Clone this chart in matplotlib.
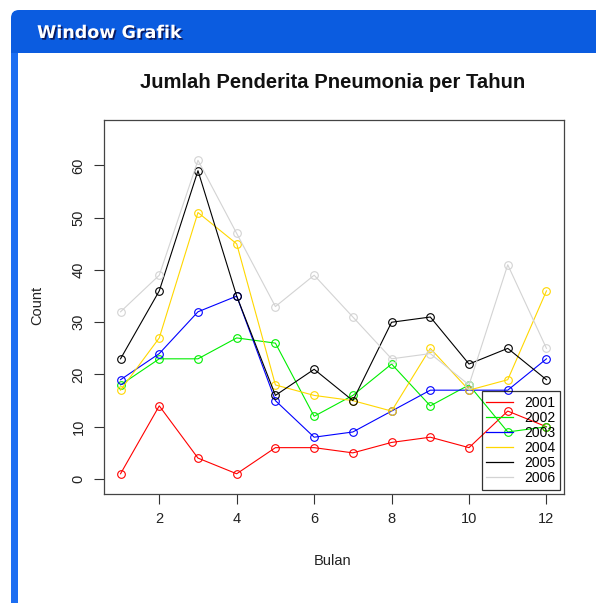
import numpy as np
import matplotlib
matplotlib.use("Agg")
import matplotlib.pyplot as plt
from matplotlib.patches import FancyBboxPatch, Rectangle
from matplotlib.lines import Line2D
import matplotlib.patheffects as pe

# data
bulan = np.arange(1, 13)
tahun = ['2001', '2002', '2003', '2004', '2005', '2006']
y2001 = [1, 14, 4, 1, 6, 6, 5, 7, 8, 6, 13, 10]
y2002 = [18, 23, 23, 27, 26, 12, 16, 22, 14, 18, 9, 10]
y2003 = [19, 24, 32, 35, 15, 8, 9, 13, 17, 17, 17, 23]
y2004 = [17, 27, 51, 45, 18, 16, 15, 13, 25, 17, 19, 36]
y2005 = [23, 36, 59, 35, 16, 21, 15, 30, 31, 22, 25, 19]
y2006 = [32, 39, 61, 47, 33, 39, 31, 23, 24, 18, 41, 25]
warna = ['#ff0000', '#00ee00', '#0000ff', '#ffd700', '#000000', '#d3d3d3']

W, H = 596, 603
fig = plt.figure(figsize=(W / 100, H / 100), dpi=100)

# window frame drawn in pixel coords
bg = fig.add_axes([0, 0, 1, 1])
bg.set_xlim(0, W)
bg.set_ylim(H, 0)
bg.axis('off')
bg.add_patch(FancyBboxPatch((11, 10), 620, 43, boxstyle='round,pad=0,rounding_size=8',
                            fc='#0b5ce0', ec='none'))
bg.add_patch(Rectangle((11, 40), 20, 13, fc='#0b5ce0', ec='none'))
bg.add_patch(Rectangle((11, 53), 6.5, 560, fc='#1c6ef2', ec='none'))
bg.text(37, 33, 'Window Grafik', color='white', fontsize=12.6, fontweight='bold',
        family='DejaVu Sans', va='center', ha='left',
        path_effects=[pe.withSimplePatchShadow(offset=(1.2, -1.2), shadow_rgbFace='#0a1a60', alpha=1)])

ax = fig.add_axes([103.5 / W, 1 - 494 / H, (563.5 - 103.5) / W, (494 - 119.5) / H])
for yr, ys, c in zip(tahun, [y2001, y2002, y2003, y2004, y2005, y2006], warna):
    ax.plot(bulan, ys, color=c, lw=0.8, marker='o', ms=5.5, mfc='none', mew=0.8)

ax.set_xlim(0.56, 12.44)
ax.set_ylim(-2.87, 68.8)
ax.set_xticks([2, 4, 6, 8, 10, 12])
ax.set_yticks(np.arange(0, 61, 10))
ax.set_yticklabels([str(v) for v in range(0, 61, 10)], rotation=90, va='center')
ax.tick_params(direction='out', length=7, width=0.8, labelsize=10.5, color='#333333',
               labelcolor='#222222', pad=6)
for s in ax.spines.values():
    s.set_color('#444444')
    s.set_linewidth(0.9)

fig.text(333 / W, 1 - 82 / H, 'Jumlah Penderita Pneumonia per Tahun', ha='center', va='center',
         fontsize=14.6, fontweight='bold', family='Liberation Sans', color='#111111')
fig.text(333 / W, 1 - 561 / H, 'Bulan', ha='center', va='center', fontsize=10.5,
         family='Liberation Sans', color='#222222')
fig.text(37 / W, 1 - 305 / H, 'Count', ha='center', va='center', rotation=90, fontsize=10.5,
         family='Liberation Sans', color='#222222')
for lab in ax.get_xticklabels() + ax.get_yticklabels():
    lab.set_family('Liberation Sans')

handles = [Line2D([], [], color=c, lw=0.9) for c in warna]
leg = ax.legend(handles, tahun, loc='lower right', bbox_to_anchor=(560 / W, 1 - 490 / H),
                bbox_transform=fig.transFigure, fancybox=False, edgecolor='black',
                facecolor='none', framealpha=None,
                prop={'family': 'Liberation Sans', 'size': 10},
                handlelength=1.9, handletextpad=0.8, labelspacing=0.08,
                borderpad=0.35, borderaxespad=0)
leg.get_frame().set_linewidth(0.9)

fig.savefig('out.png', dpi=100)
